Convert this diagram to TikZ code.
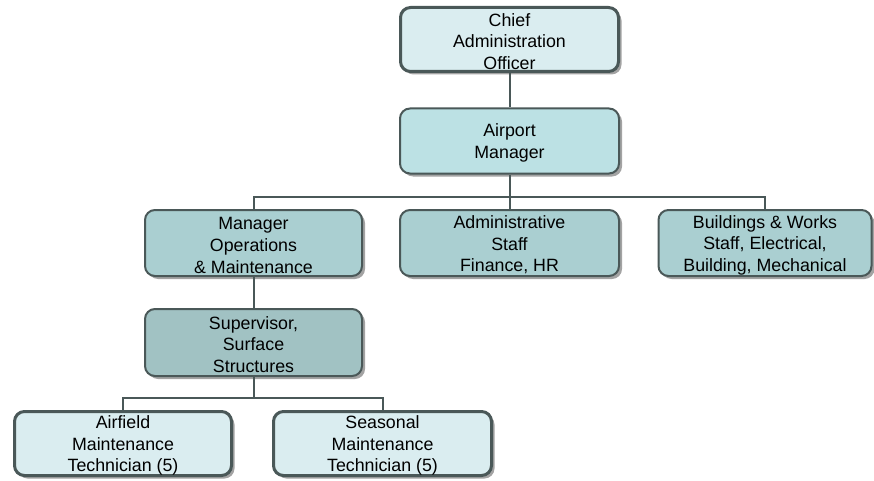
\documentclass[tikz,border=0pt]{standalone}
\usepackage{fontspec}
\setmainfont{Liberation Sans}
\usetikzlibrary{shadows}
\definecolor{edge}{HTML}{4A5858}
\definecolor{lightfill}{HTML}{DAEDF0}
\definecolor{midfill}{HTML}{BCE1E4}
\definecolor{rowfill}{HTML}{AACFD1}
\definecolor{supfill}{HTML}{A1C2C3}
\definecolor{shade}{HTML}{8C8C8C}
\newcommand\toppad{\rule{0pt}{17pt}}
\tikzset{
  box/.style={rectangle, rounded corners=10pt, draw=edge, align=center,
    font=\fontsize{17.8}{21.6}\selectfont, inner sep=0pt,
    drop shadow={shadow xshift=3pt, shadow yshift=-3pt, fill=shade, opacity=0.8}},
  thickbox/.style={box, line width=3pt, fill=lightfill},
  thinbox/.style={box, line width=2pt},
  link/.style={draw=edge, line width=2pt}
}
\begin{document}
\begin{tikzpicture}[x=1pt,y=-1pt]
\useasboundingbox (0,0) rectangle (874,481);
\node[thickbox, minimum width=218, minimum height=64] (cao) at (509.5,39.5) {\toppad Chief\\Administration\\Officer};
\node[thinbox, fill=midfill, minimum width=219, minimum height=65] (am) at (509.5,141) {\toppad Airport\\Manager};
\node[thinbox, fill=rowfill, minimum width=217, minimum height=66] (mom) at (253.5,243) {\toppad Manager\\Operations\\\& Maintenance};
\node[thinbox, fill=rowfill, minimum width=219, minimum height=66] (adm) at (509.5,243) {\toppad Administrative\\Staff\\Finance, HR};
\node[thinbox, fill=rowfill, minimum width=213, minimum height=66] (bw) at (765,243) {\toppad Buildings \& Works\\Staff, Electrical,\\Building, Mechanical};
\node[thinbox, fill=supfill, minimum width=217, minimum height=67] (sup) at (253.5,342.5) {\toppad Supervisor,\\Surface\\Structures};
\node[thickbox, minimum width=217, minimum height=64] (amt) at (123,443.5) {\toppad Airfield\\Maintenance\\Technician (5)};
\node[thickbox, minimum width=218, minimum height=64] (smt) at (382.5,443.5) {\toppad Seasonal\\Maintenance\\Technician (5)};

\coordinate (j1) at (509.5,196.5);
\coordinate (j2) at (253.5,398);
\draw[link] (cao.south) -- (am.north);
\draw[link] (am.south) -- (j1);
\draw[link] (mom.north) |- (j1) -| (bw.north);
\draw[link] (j1) -- (adm.north);
\draw[link] (mom.south) -- (sup.north);
\draw[link] (sup.south) -- (j2);
\draw[link] (amt.north) |- (j2) -| (smt.north);
\end{tikzpicture}
\end{document}
